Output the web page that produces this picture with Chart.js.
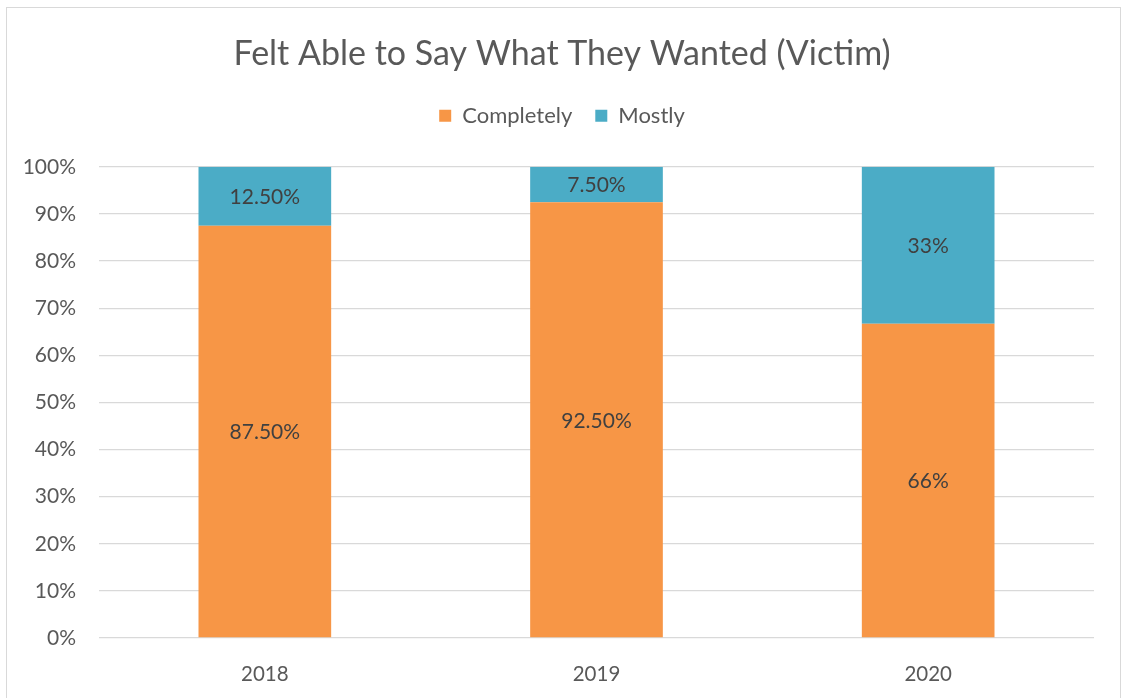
<!DOCTYPE html>
<html>
<head>
<meta charset="utf-8">
<script src="https://cdn.jsdelivr.net/npm/chart.js@4/dist/chart.umd.min.js"></script>
<style>
  html, body { margin: 0; padding: 0; background: #fff; }
  #wrap { position: relative; width: 1124px; height: 698px; }
</style>
</head>
<body>
<div id="wrap"><canvas id="chart" width="1124" height="698"></canvas></div>
<script>
// Chart data
const years = ["2018", "2019", "2020"];
const completely = [87.5, 92.5, 66.67];
const mostly = [12.5, 7.5, 33.33];
const completelyLabels = ["87.50%", "92.50%", "66%"];
const mostlyLabels = ["12.50%", "7.50%", "33%"];

const textColor = "#595959";
const fontFamily = "Lato, 'Open Sans', sans-serif";

// frame around the whole chart
const framePlugin = {
    id: "frame",
    beforeInit(chart) {
        // extra room under the legend
        const fit = chart.legend.fit;
        chart.legend.fit = function () {
            fit.call(this);
            this.height += 30;
        };
    },
    beforeDraw(chart) {
        const ctx = chart.ctx;
        ctx.save();
        ctx.fillStyle = "#fff";
        ctx.fillRect(0, 0, chart.width, chart.height);
        ctx.strokeStyle = "#d9d9d9";
        ctx.lineWidth = 1;
        ctx.strokeRect(6.5, 7.5, 1114, 700);
        ctx.restore();
    }
};

// value labels in the middle of each segment
const segmentLabels = {
    id: "segmentLabels",
    afterDatasetsDraw(chart) {
        const ctx = chart.ctx;
        const texts = [completelyLabels, mostlyLabels];
        ctx.save();
        ctx.font = "21px " + fontFamily;
        ctx.fillStyle = "#404040";
        ctx.textAlign = "center";
        ctx.textBaseline = "middle";
        chart.data.datasets.forEach((ds, i) => {
            chart.getDatasetMeta(i).data.forEach((bar, j) => {
                const p = bar.getProps(["x", "y", "base"], true);
                ctx.fillText(texts[i][j], p.x, (p.y + p.base) / 2 + 1);
            });
        });
        ctx.restore();
    }
};

new Chart(document.getElementById("chart"), {
    type: "bar",
    data: {
        labels: years,
        datasets: [{
            label: "Completely",
            data: completely,
            backgroundColor: "#F79646",
            categoryPercentage: 1,
            barPercentage: 0.4
        }, {
            label: "Mostly",
            data: mostly,
            backgroundColor: "#4BACC6",
            categoryPercentage: 1,
            barPercentage: 0.4
        }]
    },
    options: {
        responsive: false,
        animation: false,
        layout: { padding: 0 },
        plugins: {
            title: {
                display: true,
                text: "Felt Able to Say What They Wanted (Victim)",
                color: textColor,
                font: { family: fontFamily, size: 34, weight: "normal" },
                padding: { top: 34, bottom: 7 }
            },
            legend: {
                display: true,
                labels: {
                    color: textColor,
                    font: { family: fontFamily, size: 22 },
                    boxWidth: 12,
                    boxHeight: 12,
                    padding: 23
                }
            },
            tooltip: { enabled: false }
        },
        scales: {
            x: {
                stacked: true,
                grid: { display: false },
                border: { display: false },
                ticks: { color: textColor, font: { family: fontFamily, size: 20.5 }, padding: 16 },
                afterFit(axis) { axis.height = 60; }
            },
            y: {
                stacked: true,
                min: 0,
                max: 100,
                grid: { color: "#d9d9d9", lineWidth: 1.3, drawTicks: false },
                border: { display: false },
                ticks: {
                    stepSize: 10,
                    color: textColor,
                    font: { family: fontFamily, size: 21 },
                    padding: 23,
                    callback: v => v + "%"
                },
                afterFit(axis) { axis.width = 99; }
            },
            // empty right-hand axis, only keeps a margin on the right
            yRight: {
                position: "right",
                grid: { display: false },
                border: { display: false },
                ticks: { display: false },
                afterFit(axis) { axis.width = 30; }
            }
        }
    },
    plugins: [framePlugin, segmentLabels]
});
</script>
</body>
</html>
